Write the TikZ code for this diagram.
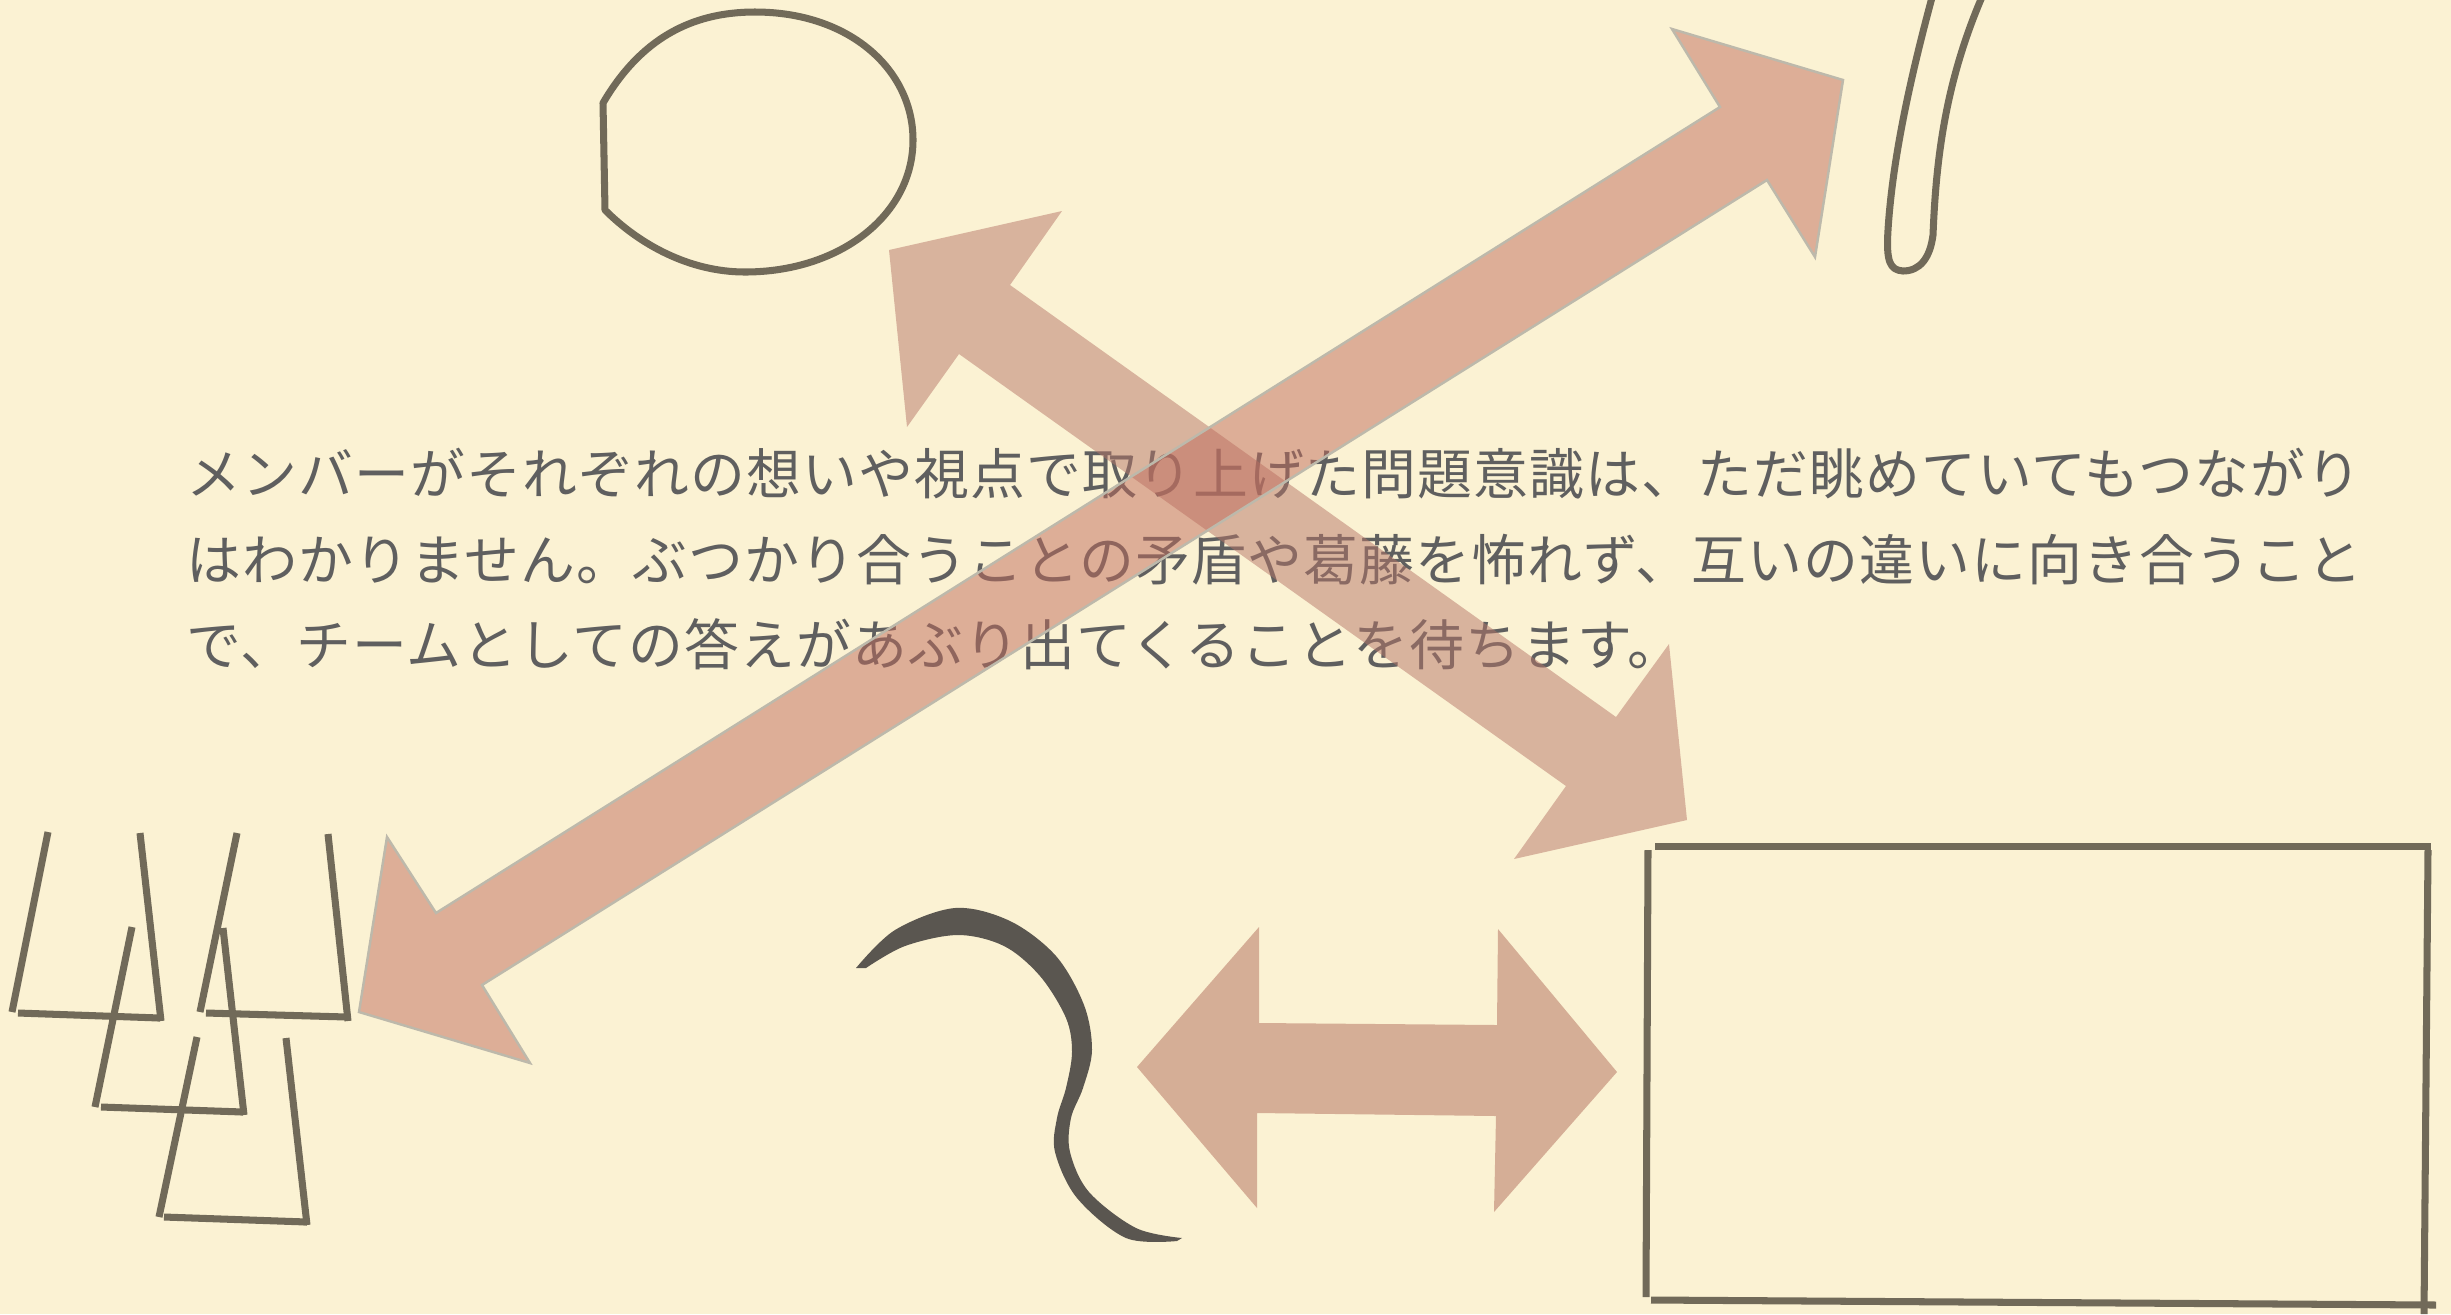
\documentclass[tikz,border=0pt]{standalone}
\usepackage{fontspec}
\newfontfamily\jpfont{Noto Sans CJK JP}[LetterSpace=2.0]
\definecolor{bgc}{HTML}{FBF2D3}
\definecolor{inkc}{HTML}{716A59}
\definecolor{textc}{HTML}{5F5F5F}
\definecolor{arrA}{HTML}{C06B5C}
\definecolor{arrB}{HTML}{B67568}
\definecolor{arrC}{HTML}{D5AE96}
\definecolor{edgec}{HTML}{BDB9AB}
\definecolor{brushc}{HTML}{5A5650}
\begin{document}
\begin{tikzpicture}[x=0.01cm,y=-0.01cm,
  ink/.style={draw=inkc,line width=2pt,line cap=butt},
  inkround/.style={draw=inkc,line width=2pt,line join=round},
  txt/.style={inner sep=0pt,anchor=west,text=textc,font={\jpfont\fontsize{15.6pt}{18pt}\selectfont}}]
\useasboundingbox (0,0) rectangle (2451,1314);
\fill[bgc] (0,0) rectangle (2451,1314);
% text
\node[txt] (l1) at (186,474) {メンバーがそれぞれの想いや視点で取り上げた問題意識は、ただ眺めていてもつながり};
\node[txt] (l2) at (186,560) {はわかりません。ぶつかり合うことの矛盾や葛藤を怖れず、互いの違いに向き合うこと};
\node[txt] (l3) at (186,644) {で、チームとしての答えがあぶり出てくることを待ちます。};
% arrow NW-SE
\fill[arrB,fill opacity=0.5] (889,250) -- (1062,211) -- (1010,285) -- (1616,717) -- (1669,644) -- (1687,820) -- (1514,859) -- (1566,786) -- (959,354) -- (907,427) -- cycle;
% arrow SW-NE
\path[fill=arrA,fill opacity=0.5,draw=edgec,line width=0.7pt,line join=miter] (1843,80) -- (1815,257) -- (1767,180) -- (482,985) -- (530,1063) -- (359,1012) -- (387,837) -- (436,913) -- (1720,107) -- (1672,29) -- cycle;
% horizontal arrow
\fill[arrC] (1137,1067) -- (1259,927) -- (1259,1023) -- (1497,1025) -- (1498,929) -- (1617,1072) -- (1494,1212) -- (1496,1116) -- (1257,1113) -- (1257,1208) -- cycle;
% oval
\draw[inkround] (603,103) .. controls (640,40) and (690,12) .. (755,12) .. controls (850,12) and (913,70) .. (913,140) .. controls (913,215) and (840,272) .. (745,272) .. controls (690,272) and (640,245) .. (605,210) -- cycle;
% hook
\draw[inkround] (1934,-10) .. controls (1915,60) and (1893,150) .. (1888,230) .. controls (1886,262) and (1890,270) .. (1903,271) .. controls (1920,271) and (1930,258) .. (1933,235) .. controls (1936,160) and (1945,80) .. (1985,-10);
% cups
\draw[ink] (48,832) -- (12,1012);
\draw[ink] (18,1013) -- (160,1018);
\draw[ink] (140,833) -- (161,1021);
\draw[ink] (237,833) -- (200,1012);
\draw[ink] (206,1013) -- (347,1017);
\draw[ink] (328,834) -- (348,1021);
\draw[ink] (132,927) -- (95,1107);
\draw[ink] (101,1107) -- (243,1112);
\draw[ink] (223,928) -- (244,1115);
\draw[ink] (197,1037) -- (159,1217);
\draw[ink] (164,1217) -- (307,1222);
\draw[ink] (286,1038) -- (307,1225);
% rectangle
\draw[ink] (1655,846) -- (2431,846);
\draw[ink] (1648,850) -- (1646,1297);
\draw[ink] (1651,1300) -- (2436,1305);
\draw[ink] (2428,850) -- (2424,1314);
% brush stroke
\fill[brushc] plot[smooth,tension=0.55] coordinates {(856,968) (895,930) (955,908) (1010,921) (1056,956) (1084,1005) (1092,1050) (1083,1088) (1071,1118) (1070,1152) (1089,1192) (1136,1228) (1182,1238)}
  -- plot[smooth,tension=0.55] coordinates {(1177,1241) (1126,1238) (1077,1198) (1055,1152) (1057,1118) (1066,1088) (1072,1052) (1066,1018) (1040,976) (1004,946) (958,935) (905,946) (866,968)} -- cycle;
\end{tikzpicture}
\end{document}
